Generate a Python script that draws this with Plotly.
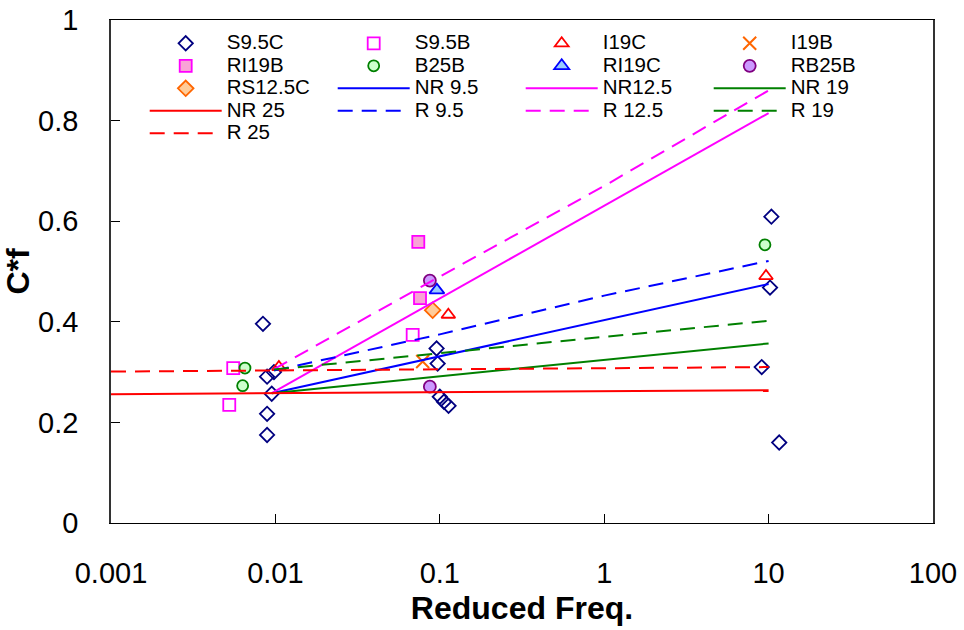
import plotly.graph_objects as go

# ---- measured points -------------------------------------------------------
s95c_x = [0.0084, 0.0089, 0.0098, 0.0095, 0.0089, 0.0089,
          0.0956, 0.097, 0.100, 0.106, 0.113,
          10.4, 10.2, 9.08, 11.6]
s95c_y = [0.396, 0.291, 0.300, 0.257, 0.217, 0.175,
          0.347, 0.317, 0.251, 0.241, 0.233,
          0.609, 0.468, 0.310, 0.160]

s95b_x = [0.00554, 0.00524, 0.0684]
s95b_y = [0.308, 0.235, 0.374]

i19c_x = [0.0105, 0.1127, 9.64]
i19c_y = [0.310, 0.414, 0.491]

i19b_x = [0.0787]
i19b_y = [0.321]

ri19b_x = [0.074, 0.0758]
ri19b_y = [0.559, 0.447]

b25b_x = [0.00653, 0.00632, 9.5]
b25b_y = [0.308, 0.273, 0.553]

ri19c_x = [0.096]
ri19c_y = [0.463]

rb25b_x = [0.087, 0.087]
rb25b_y = [0.482, 0.271]

rs125c_x = [0.0905]
rs125c_y = [0.423]

# ---- model curves ----------------------------------------------------------
nr_x = [0.0095, 10]
nr95_y = [0.258, 0.475]
nr125_y = [0.258, 0.815]
nr19_y = [0.258, 0.357]

nr25_x = [0.001, 10]
nr25_y = [0.256, 0.264]

r_x = [0.0098, 0.1, 1, 10]
r95_y = [0.303, 0.375, 0.452, 0.521]
r125_y = [0.306, 0.490, 0.670, 0.860]
r19_y = [0.305, 0.337, 0.370, 0.402]

r25_x = [0.001, 10]
r25_y = [0.301, 0.310]

x_tickvals = [0.001, 0.01, 0.1, 1, 10, 100]
x_ticktext = ["0.001", "0.01", "0.1", "1", "10", "100"]

FONT = "Liberation Sans, Arial, sans-serif"
DASH = "15px,9px"


def lbl(s):
    return f'<span style="font-size:20.5px">{s}</span>'


fig = go.Figure()


def add_markers(x, y, name, symbol, size, fill, edge, lw=1.8):
    fig.add_trace(go.Scatter(
        x=x, y=y, mode="markers", name=lbl(name),
        marker=dict(symbol=symbol, size=size, color=fill,
                    line=dict(color=edge, width=lw)),
    ))


def add_line(x, y, name, color, dash="solid"):
    fig.add_trace(go.Scatter(
        x=x, y=y, mode="lines", name=lbl(name),
        line=dict(color=color, width=2, dash=dash),
    ))


add_markers(s95c_x, s95c_y, "S9.5C", "diamond-open", 11, "#000080", "#000080")
add_markers(s95b_x, s95b_y, "S9.5B", "square-open", 12, "#FF00FF", "#FF00FF")
add_markers(i19c_x, i19c_y, "I19C", "triangle-up-open", 12, "#FF0000", "#FF0000")
add_markers(i19b_x, i19b_y, "I19B", "x-thin-open", 13, "#FF6600", "#FF6600", 2)
add_markers(ri19b_x, ri19b_y, "RI19B", "square", 12, "#F9A3D6", "#FF00FF")
add_markers(b25b_x, b25b_y, "B25B", "circle", 11, "#CCFFCC", "#008000")
add_markers(ri19c_x, ri19c_y, "RI19C", "triangle-up", 13, "#99CCFF", "#0000FF")
add_markers(rb25b_x, rb25b_y, "RB25B", "circle", 12, "#CC99FF", "#800080")
add_markers(rs125c_x, rs125c_y, "RS12.5C", "diamond", 12, "#FFCC99", "#FF6600")
add_line(nr_x, nr95_y, "NR 9.5", "#0000FF")
add_line(nr_x, nr125_y, "NR12.5", "#FF00FF")
add_line(nr_x, nr19_y, "NR 19", "#008000")
add_line(nr25_x, nr25_y, "NR 25", "#FF0000")
add_line(r_x, r95_y, "R 9.5", "#0000FF", DASH)
add_line(r_x, r125_y, "R 12.5", "#FF00FF", DASH)
add_line(r_x, r19_y, "R 19", "#008000", DASH)
add_line(r25_x, r25_y, "R 25", "#FF0000", DASH)

fig.update_layout(
    width=964, height=630,
    margin=dict(l=111, r=31, t=20, b=107),
    paper_bgcolor="white", plot_bgcolor="white",
    font=dict(family=FONT, color="black"),
    showlegend=True,
    legend=dict(
        orientation="h", x=0.041, y=0.986, xanchor="left", yanchor="top",
        bgcolor="rgba(0,0,0,0)", borderwidth=0,
        font=dict(size=15, family=FONT),
        itemwidth=72, entrywidth=101, entrywidthmode="pixels",
        traceorder="normal", itemclick=False,
    ),
    xaxis=dict(
        type="log", range=[-3, 2], automargin=False,
        tickvals=x_tickvals, ticktext=x_ticktext,
        ticks="inside", ticklen=9, tickcolor="black",
        showline=True, linecolor="black", linewidth=1, mirror=True,
        showgrid=False, zeroline=False,
        tickfont=dict(size=29), ticklabelstandoff=24,
        title=dict(text="<b>Reduced Freq.</b>", font=dict(size=32), standoff=8),
    ),
    yaxis=dict(
        range=[0, 1], dtick=0.2, tick0=0, automargin=False,
        ticks="inside", ticklen=9, tickcolor="black",
        showline=True, linecolor="#333333", linewidth=1.5, mirror=True,
        showgrid=False, zeroline=False,
        tickfont=dict(size=29), ticklabelstandoff=25,
        title=dict(text="<b>C*f</b>", font=dict(size=32), standoff=0),
    ),
)

fig.write_html("out.html")
